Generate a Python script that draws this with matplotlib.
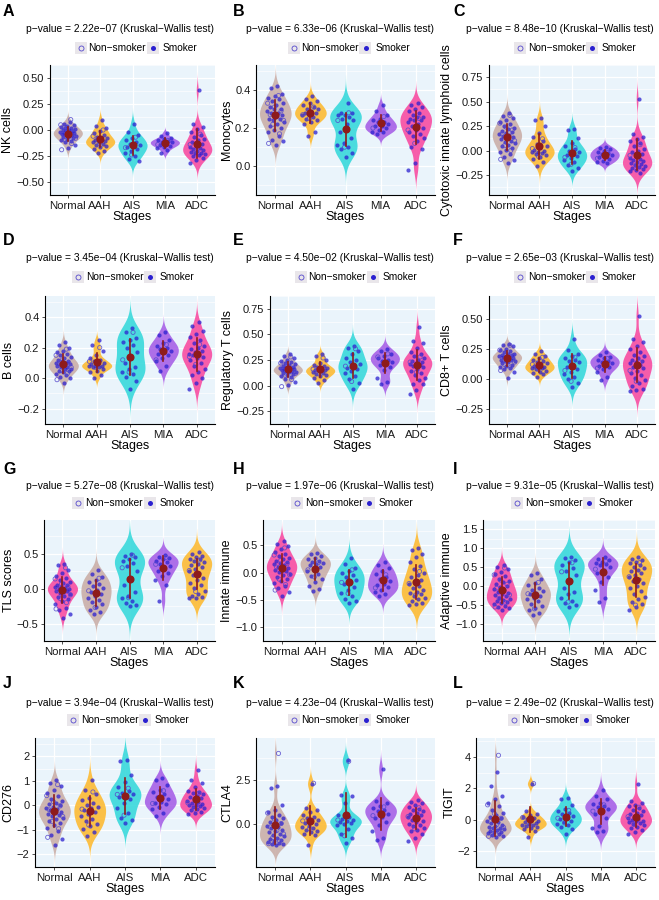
import numpy as np
import matplotlib.pyplot as plt
from matplotlib.patches import Rectangle
from matplotlib.lines import Line2D

plt.rcParams['font.family'] = ['Liberation Sans', 'DejaVu Sans']
plt.rcParams['axes.unicode_minus'] = True

M = "\u2212"
stages = ["Normal", "AAH", "AIS", "MIA", "ADC"]
letters = list("ABCDEFGHIJKL")
ylabels = ["NK cells", "Monocytes", "Cytotoxic innate lymphoid cells",
           "B cells", "Regulatory T cells", "CD8+ T cells",
           "TLS scores", "Innate immune", "Adaptive immune",
           "CD276", "CTLA4", "TIGIT"]
pvalues = ["2.22e-07", "6.33e-06", "8.48e-10", "3.45e-04", "4.50e-02", "2.65e-03",
           "5.27e-08", "1.97e-06", "9.31e-05", "3.94e-04", "4.23e-04", "2.49e-02"]

# values per stage (Normal, AAH, AIS, MIA, ADC), smokers / non-smokers
nk_smk = [[0.08, 0.06, 0.05, 0.04, 0.03, 0.02, 0.02, 0.01, 0.00, 0.00, -0.01, -0.01, -0.02, -0.02, -0.03, -0.03, -0.04, -0.04, -0.05, -0.05, -0.06, -0.06, -0.07, -0.08, -0.09, -0.10, -0.11, -0.12, -0.14, -0.17],
          [0.10, 0.04, 0.02, -0.01, -0.03, -0.05, -0.07, -0.08, -0.09, -0.10, -0.11, -0.12, -0.12, -0.13, -0.14, -0.15, -0.16, -0.18, -0.20, -0.22],
          [0.06, -0.02, -0.05, -0.08, -0.10, -0.12, -0.13, -0.14, -0.15, -0.16, -0.18, -0.20, -0.22, -0.25, -0.28, -0.30],
          [-0.03, -0.06, -0.08, -0.09, -0.10, -0.11, -0.12, -0.12, -0.13, -0.14, -0.15, -0.16, -0.17, -0.19, -0.22],
          [0.38, 0.06, 0.03, 0.01, -0.02, -0.05, -0.07, -0.09, -0.10, -0.12, -0.13, -0.15, -0.16, -0.17, -0.18, -0.19, -0.20, -0.21, -0.22, -0.22, -0.23, -0.24, -0.25, -0.27, -0.29, -0.32]]
nk_non = [[0.10, 0.05, 0.01, -0.02, -0.04, -0.06, -0.08, -0.10, -0.13, -0.19],
          [0.00, -0.06, -0.13], [-0.07, -0.17, -0.24], [-0.10, -0.14], [-0.04, -0.14, -0.20]]

mono_smk = [[0.42, 0.41, 0.38, 0.37, 0.36, 0.35, 0.34, 0.33, 0.32, 0.31, 0.30, 0.30, 0.29, 0.28, 0.28, 0.27, 0.26, 0.25, 0.25, 0.24, 0.23, 0.22, 0.21, 0.20, 0.19, 0.18, 0.16, 0.14, 0.13, 0.11],
            [0.37, 0.35, 0.34, 0.33, 0.32, 0.31, 0.30, 0.30, 0.29, 0.28, 0.28, 0.27, 0.27, 0.26, 0.25, 0.24, 0.23, 0.22, 0.18, 0.16],
            [0.33, 0.28, 0.28, 0.27, 0.27, 0.26, 0.25, 0.24, 0.22, 0.18, 0.15, 0.12, 0.11, 0.10, 0.09, 0.07, 0.05],
            [0.32, 0.29, 0.27, 0.25, 0.24, 0.23, 0.23, 0.22, 0.21, 0.21, 0.20, 0.19, 0.18, 0.18, 0.17],
            [0.33, 0.32, 0.31, 0.30, 0.29, 0.28, 0.27, 0.26, 0.26, 0.25, 0.24, 0.24, 0.23, 0.22, 0.21, 0.20, 0.19, 0.18, 0.17, 0.16, 0.15, 0.13, 0.10, 0.09, 0.02, -0.02]]
mono_non = [[0.37, 0.33, 0.31, 0.29, 0.27, 0.26, 0.24, 0.22, 0.17, 0.12],
            [0.31, 0.27, 0.25], [0.28, 0.24, 0.10], [0.26, 0.20], [0.25, 0.19, 0.12]]

cilc_smk = [[0.38, 0.35, 0.33, 0.31, 0.29, 0.27, 0.25, 0.23, 0.22, 0.20, 0.19, 0.18, 0.17, 0.16, 0.15, 0.14, 0.13, 0.12, 0.10, 0.09, 0.08, 0.06, 0.05, 0.03, 0.01, -0.02, -0.04, -0.07, -0.10, -0.13],
            [0.33, 0.31, 0.25, 0.18, 0.14, 0.10, 0.07, 0.05, 0.03, 0.01, 0.00, -0.01, -0.02, -0.03, -0.04, -0.05, -0.07, -0.09, -0.12, -0.16],
            [0.22, 0.21, 0.13, 0.08, 0.05, 0.02, 0.00, -0.02, -0.03, -0.05, -0.06, -0.08, -0.10, -0.12, -0.15, -0.18, -0.21],
            [0.04, 0.03, 0.02, 0.00, -0.01, -0.03, -0.04, -0.05, -0.06, -0.07, -0.09, -0.11, -0.12, -0.13],
            [0.53, 0.17, 0.14, 0.12, 0.10, 0.08, 0.05, 0.02, 0.00, -0.02, -0.04, -0.06, -0.08, -0.09, -0.10, -0.11, -0.12, -0.13, -0.14, -0.15, -0.16, -0.17, -0.18, -0.19, -0.20, -0.21, -0.23]]
cilc_non = [[0.36, 0.28, 0.24, 0.21, 0.17, 0.13, 0.10, 0.05, 0.00, -0.09],
            [0.12, 0.02, -0.06], [0.03, -0.07, -0.14], [-0.02, -0.08], [0.06, -0.05, -0.15]]

bcell_smk = [[0.24, 0.22, 0.20, 0.18, 0.17, 0.16, 0.15, 0.14, 0.13, 0.12, 0.11, 0.11, 0.10, 0.10, 0.09, 0.09, 0.08, 0.08, 0.07, 0.07, 0.06, 0.06, 0.05, 0.05, 0.04, 0.03, 0.02, 0.01, 0.00, -0.03],
             [0.25, 0.22, 0.18, 0.15, 0.13, 0.12, 0.11, 0.10, 0.09, 0.09, 0.08, 0.08, 0.08, 0.07, 0.07, 0.06, 0.05, 0.04, 0.02, 0.00],
             [0.33, 0.30, 0.26, 0.25, 0.24, 0.22, 0.20, 0.17, 0.14, 0.10, 0.07, 0.06, 0.04, 0.03, 0.01, -0.02, -0.07],
             [0.30, 0.28, 0.25, 0.23, 0.21, 0.20, 0.19, 0.18, 0.17, 0.16, 0.15, 0.13, 0.11, 0.08, 0.05],
             [0.37, 0.34, 0.31, 0.29, 0.27, 0.25, 0.23, 0.21, 0.20, 0.19, 0.18, 0.17, 0.16, 0.15, 0.15, 0.14, 0.13, 0.12, 0.10, 0.08, 0.06, 0.04, 0.02, 0.00, -0.03, -0.07]]
bcell_non = [[0.19, 0.15, 0.12, 0.10, 0.09, 0.08, 0.07, 0.05, 0.03, -0.01],
             [0.20, 0.11, 0.07], [0.30, 0.12, 0.04], [0.22, 0.12], [0.22, 0.14, 0.09]]

treg_smk = [[0.31, 0.29, 0.27, 0.25, 0.24, 0.23, 0.22, 0.21, 0.20, 0.19, 0.18, 0.18, 0.17, 0.17, 0.16, 0.16, 0.15, 0.15, 0.14, 0.14, 0.13, 0.13, 0.12, 0.11, 0.10, 0.09, 0.08, 0.06, 0.04, 0.01],
            [0.31, 0.29, 0.25, 0.22, 0.20, 0.19, 0.18, 0.17, 0.16, 0.15, 0.15, 0.14, 0.13, 0.12, 0.11, 0.10, 0.09, 0.07, 0.05, 0.03],
            [0.39, 0.37, 0.34, 0.31, 0.27, 0.25, 0.23, 0.21, 0.19, 0.17, 0.16, 0.14, 0.12, 0.09, 0.06, 0.03, -0.03],
            [0.36, 0.34, 0.31, 0.29, 0.27, 0.25, 0.24, 0.23, 0.22, 0.20, 0.18, 0.15, 0.07, 0.04, 0.02],
            [0.57, 0.44, 0.42, 0.37, 0.33, 0.31, 0.29, 0.27, 0.25, 0.24, 0.23, 0.22, 0.21, 0.20, 0.19, 0.18, 0.16, 0.14, 0.12, 0.10, 0.07, 0.05, 0.02, 0.02, -0.04, -0.08]]
treg_non = [[0.28, 0.22, 0.19, 0.17, 0.15, 0.14, 0.12, 0.10, 0.06, -0.01],
            [0.27, 0.16, 0.12], [0.36, 0.19, 0.04], [0.31, 0.28], [0.28, 0.23, 0.13]]

cd8_smk = [[0.29, 0.28, 0.27, 0.25, 0.24, 0.23, 0.22, 0.21, 0.21, 0.20, 0.20, 0.19, 0.19, 0.18, 0.18, 0.17, 0.17, 0.16, 0.16, 0.15, 0.15, 0.14, 0.13, 0.12, 0.11, 0.10, 0.09, 0.08, 0.06, 0.01],
           [0.23, 0.21, 0.19, 0.17, 0.16, 0.15, 0.14, 0.13, 0.12, 0.11, 0.10, 0.10, 0.09, 0.09, 0.08, 0.07, 0.06, 0.05, 0.04, 0.02],
           [0.33, 0.24, 0.21, 0.19, 0.17, 0.16, 0.15, 0.14, 0.12, 0.10, 0.08, 0.06, 0.04, 0.02, 0.00, -0.03, -0.07],
           [0.22, 0.20, 0.18, 0.17, 0.16, 0.15, 0.14, 0.13, 0.12, 0.11, 0.10, 0.08, 0.06, 0.02, -0.01],
           [0.52, 0.33, 0.31, 0.27, 0.25, 0.22, 0.20, 0.19, 0.17, 0.16, 0.15, 0.14, 0.13, 0.12, 0.10, 0.09, 0.07, 0.05, 0.03, 0.01, -0.01, -0.03, -0.06, -0.08, -0.09, -0.10]]
cd8_non = [[0.28, 0.24, 0.21, 0.19, 0.18, 0.16, 0.14, 0.12, 0.10, 0.07],
           [0.18, 0.12, 0.08], [0.18, 0.07, -0.02], [0.17, 0.09], [0.14, 0.07, -0.02]]

tls_smk = [[0.36, 0.34, 0.27, 0.22, 0.18, 0.15, 0.12, 0.10, 0.08, 0.06, 0.05, 0.03, 0.02, 0.01, 0.00, -0.01, -0.02, -0.03, -0.04, -0.06, -0.08, -0.10, -0.12, -0.15, -0.18, -0.22, -0.27, -0.31, -0.37, -0.42],
           [0.27, 0.21, 0.17, 0.13, 0.10, 0.07, 0.04, 0.01, -0.02, -0.05, -0.07, -0.10, -0.13, -0.16, -0.19, -0.22, -0.26, -0.30, -0.34, -0.37],
           [0.50, 0.47, 0.45, 0.43, 0.40, 0.37, 0.33, 0.25, 0.15, 0.05, -0.05, -0.10, -0.14, -0.17, -0.20, -0.23, -0.25],
           [0.48, 0.46, 0.44, 0.42, 0.40, 0.38, 0.35, 0.32, 0.28, 0.25, 0.22, 0.18, 0.13, 0.05, -0.17],
           [0.52, 0.50, 0.47, 0.45, 0.43, 0.42, 0.40, 0.38, 0.36, 0.34, 0.31, 0.28, 0.25, 0.22, 0.19, 0.16, 0.12, 0.08, 0.05, 0.01, -0.03, -0.07, -0.10, -0.12, -0.13, -0.14]]
tls_non = [[0.30, 0.14, 0.07, 0.03, -0.01, -0.05, -0.09, -0.14, -0.20, -0.29],
           [0.15, -0.03, -0.27], [0.48, 0.30, -0.13], [0.45, 0.35], [0.41, 0.26, -0.04]]

innate_smk = [[0.57, 0.53, 0.48, 0.43, 0.38, 0.34, 0.30, 0.27, 0.24, 0.21, 0.19, 0.17, 0.15, 0.13, 0.11, 0.09, 0.07, 0.05, 0.03, 0.01, -0.02, -0.05, -0.08, -0.11, -0.15, -0.19, -0.24, -0.29, -0.35, -0.42],
              [0.35, 0.33, 0.30, 0.27, 0.24, 0.22, 0.20, 0.17, 0.15, 0.13, 0.10, 0.07, 0.03, -0.02, -0.07, -0.12, -0.18, -0.24, -0.30, -0.33],
              [0.27, 0.15, 0.08, 0.03, -0.01, -0.05, -0.09, -0.13, -0.17, -0.21, -0.26, -0.31, -0.37, -0.43, -0.48, -0.52, -0.55],
              [0.20, 0.13, 0.08, 0.03, -0.03, -0.08, -0.12, -0.16, -0.20, -0.23, -0.27, -0.31, -0.35, -0.39, -0.43],
              [0.45, 0.42, 0.33, 0.28, 0.20, 0.12, 0.06, 0.00, -0.05, -0.09, -0.13, -0.17, -0.21, -0.25, -0.29, -0.32, -0.35, -0.38, -0.40, -0.43, -0.46, -0.49, -0.52, -0.55, -0.58, -0.60]]
innate_non = [[0.45, 0.32, 0.22, 0.16, 0.10, 0.04, -0.04, -0.12, -0.22, -0.32],
              [0.18, 0.05, -0.08], [0.05, -0.18, -0.38], [-0.04, -0.28], [0.02, -0.20, -0.41]]

adapt_smk = [[0.56, 0.50, 0.45, 0.38, 0.32, 0.26, 0.20, 0.15, 0.10, 0.05, 0.01, -0.03, -0.07, -0.11, -0.15, -0.18, -0.21, -0.24, -0.27, -0.30, -0.33, -0.36, -0.39, -0.42, -0.45, -0.48, -0.52, -0.55, -0.58, -0.62],
             [0.35, 0.30, 0.18, 0.08, 0.02, -0.05, -0.10, -0.14, -0.18, -0.22, -0.26, -0.30, -0.35, -0.40, -0.46, -0.52, -0.58, -0.64, -0.70, -0.77],
             [0.78, 0.74, 0.70, 0.65, 0.55, 0.48, 0.40, 0.30, 0.15, -0.05, -0.15, -0.22, -0.30, -0.38, -0.45, -0.50, -0.55],
             [0.76, 0.72, 0.68, 0.65, 0.62, 0.58, 0.55, 0.50, 0.42, 0.35, 0.25, 0.10, -0.10, -0.30, -0.43],
             [0.77, 0.73, 0.68, 0.64, 0.60, 0.56, 0.52, 0.48, 0.44, 0.40, 0.35, 0.30, 0.25, 0.20, 0.14, 0.08, 0.01, -0.05, -0.12, -0.20, -0.28, -0.35, -0.42, -0.48, -0.55, -0.62]]
adapt_non = [[0.48, 0.30, 0.16, 0.05, -0.05, -0.14, -0.23, -0.32, -0.43, -0.55],
             [0.10, -0.20, -0.60], [0.62, 0.38, -0.42], [0.66, 0.45], [0.62, 0.25, -0.50]]

cd276_smk = [[1.05, 0.90, 0.80, 0.65, 0.50, 0.38, 0.28, 0.20, 0.12, 0.05, 0.00, -0.05, -0.10, -0.15, -0.20, -0.25, -0.30, -0.35, -0.40, -0.45, -0.50, -0.55, -0.62, -0.70, -0.80, -0.90, -1.05, -1.20, -1.38, -1.60],
             [1.05, 0.62, 0.45, 0.32, 0.22, 0.12, 0.03, -0.05, -0.12, -0.20, -0.28, -0.36, -0.45, -0.55, -0.65, -0.75, -0.85, -0.95, -1.10, -1.25],
             [1.85, 1.80, 1.25, 0.95, 0.75, 0.60, 0.50, 0.45, 0.40, 0.35, 0.25, 0.10, -0.10, -0.30, -0.50, -0.60, -0.72],
             [1.10, 1.05, 0.85, 0.65, 0.55, 0.45, 0.35, 0.25, 0.15, 0.10, 0.05, -0.05, -0.15, -0.30, -0.45],
             [1.45, 1.05, 0.90, 0.75, 0.60, 0.55, 0.50, 0.45, 0.40, 0.35, 0.30, 0.25, 0.20, 0.15, 0.10, 0.05, 0.02, 0.00, -0.03, -0.06, -0.10, -0.15, -0.20, -0.25, -0.30, -0.35]]
cd276_non = [[0.85, 0.40, 0.15, -0.02, -0.18, -0.30, -0.45, -0.65, -0.95, -1.30],
             [0.55, -0.15, -0.80], [0.70, 0.45, -0.40], [0.60, 0.08], [0.50, 0.10, -0.15]]

ctla4_smk = [[2.15, 2.05, 1.05, 0.80, 0.65, 0.50, 0.40, 0.30, 0.20, 0.10, 0.02, -0.05, -0.12, -0.20, -0.28, -0.35, -0.42, -0.50, -0.58, -0.65, -0.72, -0.80, -0.88, -0.95, -1.02, -1.08, -1.12, -1.15, -1.18, -1.20],
             [2.25, 0.90, 0.80, 0.65, 0.50, 0.40, 0.30, 0.20, 0.10, 0.02, -0.05, -0.12, -0.20, -0.28, -0.35, -0.42, -0.50, -0.58, -0.65, -1.25],
             [3.60, 1.60, 1.55, 1.20, 0.50, 0.35, 0.25, 0.20, 0.15, 0.10, 0.05, 0.00, -0.10, -0.30, -0.60, -0.85, -1.10],
             [3.10, 1.30, 1.15, 1.00, 0.90, 0.80, 0.70, 0.55, 0.40, 0.30, 0.10, -0.10, -0.40, -0.80, -0.95],
             [1.35, 1.25, 1.15, 1.05, 0.95, 0.85, 0.75, 0.70, 0.60, 0.55, 0.48, 0.40, 0.35, 0.30, 0.22, 0.15, 0.08, 0.00, -0.08, -0.15, -0.25, -0.35, -0.45, -0.60, -0.80, -1.00]]
ctla4_non = [[4.00, 0.60, 0.25, 0.00, -0.20, -0.40, -0.60, -0.80, -1.00, -1.15],
             [2.30, 0.15, -0.30], [3.55, 0.20, -0.70], [0.95, 0.45], [0.90, 0.40, -0.30]]

tigit_smk = [[3.05, 2.15, 1.50, 1.35, 1.10, 0.85, 0.65, 0.45, 0.30, 0.20, 0.10, 0.00, -0.08, -0.15, -0.22, -0.30, -0.38, -0.45, -0.50, -0.55, -0.60, -0.65, -0.70, -0.75, -0.80, -0.85, -0.90, -0.95, -1.00, -1.10],
             [2.30, 0.55, 0.40, 0.30, 0.20, 0.10, 0.02, -0.05, -0.10, -0.15, -0.20, -0.25, -0.30, -0.35, -0.40, -0.48, -0.55, -0.60, -0.70, -1.10],
             [1.40, 1.35, 0.95, 0.70, 0.55, 0.45, 0.35, 0.25, 0.15, 0.05, -0.05, -0.15, -0.25, -0.35, -0.45, -0.60, -0.90],
             [1.90, 1.50, 1.30, 1.10, 1.00, 0.90, 0.80, 0.70, 0.60, 0.40, 0.10, -0.40, -0.55, -0.70, -0.80],
             [2.25, 1.20, 1.05, 0.95, 0.85, 0.75, 0.65, 0.55, 0.45, 0.35, 0.28, 0.20, 0.12, 0.05, 0.00, -0.05, -0.10, -0.15, -0.20, -0.28, -0.35, -0.45, -0.55, -0.65, -0.75, -0.90]]
tigit_non = [[4.10, 0.95, 0.40, 0.10, -0.12, -0.30, -0.48, -0.62, -0.80, -1.05],
             [2.30, 0.15, -0.35], [0.60, 0.10, -0.20], [0.95, 0.55], [0.80, 0.20, -0.30]]

yticks = [[-0.5, -0.25, 0, 0.25, 0.5], [0, 0.2, 0.4], [-0.25, 0, 0.25, 0.5, 0.75],
          [-0.2, 0, 0.2, 0.4], [-0.25, 0, 0.25, 0.5, 0.75], [-0.25, 0, 0.25, 0.5],
          [-0.5, 0, 0.5], [-1.0, -0.5, 0, 0.5], [-1.0, -0.5, 0, 0.5, 1.0, 1.5],
          [-2, -1, 0, 1, 2], [0, 2.5], [-2, 0, 2, 4]]
ytickfmt = ["%.2f", "%.1f", "%.2f", "%.1f", "%.2f", "%.2f",
            "%.1f", "%.1f", "%.1f", "%d", "%.1f", "%d"]
ylims = [(-0.52, 0.59), (-0.15, 0.53), (-0.455, 0.775), (-0.284, 0.538), (-0.27, 0.77),
         (-0.26, 0.69), (-0.72, 0.985), (-1.13, 0.96), (-1.45, 1.655), (-2.51, 2.75),
         (-2.48, 4.88), (-2.14, 5.2)]

pal1 = ["#C9ADA6", "#FDB92F", "#34D8DA", "#A55DE6", "#F8489F"]
pal2 = ["#F8489F", "#C9ADA6", "#34D8DA", "#A55DE6", "#FDB92F"]
palettes = [pal1] * 6 + [pal2] * 3 + [pal1] * 3

smokers = [nk_smk, mono_smk, cilc_smk, bcell_smk, treg_smk, cd8_smk,
           tls_smk, innate_smk, adapt_smk, cd276_smk, ctla4_smk, tigit_smk]
nonsmokers = [nk_non, mono_non, cilc_non, bcell_non, treg_non, cd8_non,
              tls_non, innate_non, adapt_non, cd276_non, ctla4_non, tigit_non]

# layout in pixels
W, H = 659, 900
rows_tb = [(65, 195), (296, 424), (520, 641), (738, 867)]
lefts = [50, 256, 489, 45, 270, 489, 44, 263, 483, 35, 256, 476]
rights = [215, 435, 655]
col_off = [0, 220, 440]
letter_y = [16, 245, 474, 688]
title_y = [29, 258, 486, 702.5]
legend_y = [48, 277, 503, 720]
letter_x = [3, 233, 453]

BG = "#EAF4FB"
SMK = "#2B20D0"
NON = "#5548CC"
MEAN = "#8E1B1B"


def fx(px):
    return px / W


def fy(py):
    return 1 - py / H


def kde(vals):
    v = np.asarray(vals, float)
    n = len(v)
    sd = v.std(ddof=1)
    q75, q25 = np.percentile(v, [75, 25])
    bw = 1.15 * 0.9 * min(sd, (q75 - q25) / 1.34) * n ** -0.2
    y = np.linspace(v.min() - 3 * bw, v.max() + 3 * bw, 400)
    d = np.exp(-0.5 * ((y[:, None] - v[None, :]) / bw) ** 2).sum(1)
    return y, d / d.max()


fig = plt.figure(figsize=(W / 100, H / 100), dpi=100)

for k in range(12):
    r, c = divmod(k, 3)
    top, bot = rows_tb[r]
    left, right = lefts[k], rights[c]
    ax = fig.add_axes([fx(left), fy(bot), fx(right - left), (bot - top) / H])
    ax.set_facecolor(BG)
    pal = palettes[k]

    for i in range(5):
        smk = smokers[k][i]
        non = nonsmokers[k][i]
        allv = np.array(smk + non)
        xpos = i + 1
        y, d = kde(allv)
        ax.fill_betweenx(y, xpos - 0.45 * d, xpos + 0.45 * d, color=pal[i],
                         alpha=0.88, lw=0, zorder=2)
        js = ((np.arange(len(smk)) + 1) * 0.618034 % 1 - 0.5) * 0.5
        jn = ((np.arange(len(non)) + 1) * 0.381966 + 0.3) % 1 * 0.5 - 0.25
        ax.scatter(xpos + js, smk, s=9, color=SMK, alpha=0.75, lw=0, zorder=3)
        ax.scatter(xpos + jn, non, s=9, facecolors="none", edgecolors=NON,
                   lw=0.6, alpha=0.85, zorder=3)
        m, s = allv.mean(), allv.std(ddof=1)
        ax.plot([xpos, xpos], [m - s, m + s], color=MEAN, lw=1.2, zorder=4)
        ax.scatter([xpos], [m], s=34, color=MEAN, lw=0, zorder=5)

    ax.set_xlim(0.45, 5.55)
    ax.set_ylim(*ylims[k])
    ax.set_xticks(range(1, 6))
    ax.set_xticklabels(stages)
    ax.set_yticks(yticks[k])
    ax.set_yticklabels([(ytickfmt[k] % t).replace("-", M) for t in yticks[k]])
    yt = yticks[k]
    step = yt[1] - yt[0]
    ax.set_yticks([t + step / 2 for t in [yt[0] - step] + yt], minor=True)
    ax.grid(True, which="major", color="white", lw=0.9, zorder=0)
    ax.grid(True, which="minor", axis="y", color="white", lw=0.45, zorder=0)
    ax.set_axisbelow(True)
    ax.tick_params(which="minor", length=0)
    ax.tick_params(which="major", length=2.5, width=0.6, color="#333333",
                   labelcolor="#1a1a1a", pad=1.5)
    ax.tick_params(axis="x", labelsize=8.2)
    ax.tick_params(axis="y", labelsize=8)
    for sp in ["top", "right"]:
        ax.spines[sp].set_visible(False)
    for sp in ["left", "bottom"]:
        ax.spines[sp].set_linewidth(0.8)
        ax.spines[sp].set_color("black")
    ax.set_xlabel("Stages", fontsize=9, labelpad=0)
    ax.set_ylabel(ylabels[k], fontsize=9, labelpad=1.5)

    # panel letter and title
    fig.text(fx(letter_x[c]), fy(letter_y[r]), letters[k], fontsize=11.5,
             fontweight="bold", ha="left", va="baseline")
    fig.text(fx(col_off[c] + 120), fy(title_y[r]),
             "p" + M + "value = " + pvalues[k].replace("-", M) + " (Kruskal" + M + "Wallis test)",
             fontsize=7.4, ha="center", va="center")

    # legend
    cx = (left + right) / 2 + 3
    ly = legend_y[r]
    for kx in (cx - 61, cx + 11):
        fig.patches.append(Rectangle((fx(kx), fy(ly + 6)), fx(12), 12 / H,
                                     transform=fig.transFigure, color="#E9E6EA",
                                     lw=0, zorder=1))
    fig.lines.append(Line2D([fx(cx - 55)], [fy(ly)], transform=fig.transFigure,
                            marker="o", ms=3.6, mfc="none", mec=NON, mew=0.6, ls=""))
    fig.lines.append(Line2D([fx(cx + 17)], [fy(ly)], transform=fig.transFigure,
                            marker="o", ms=3.6, mfc=SMK, mec=SMK, mew=0, ls=""))
    fig.text(fx(cx - 47), fy(ly), "Non" + M + "smoker", fontsize=7.3, ha="left", va="center")
    fig.text(fx(cx + 27), fy(ly), "Smoker", fontsize=7.3, ha="left", va="center")

fig.savefig("out.png", dpi=100)
